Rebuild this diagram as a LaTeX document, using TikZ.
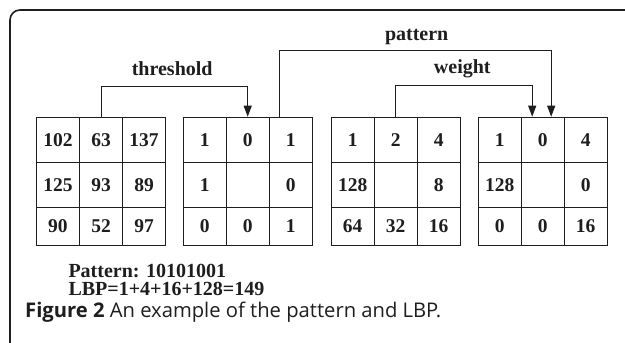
\documentclass[tikz,border=0pt]{standalone}
\usepackage{fontspec}
\setmainfont{Liberation Serif}
\newfontfamily\capfont{Open Sans}
\usetikzlibrary{arrows.meta}
\definecolor{ink}{HTML}{1E1E1E}
\begin{document}
\begin{tikzpicture}[x=1pt,y=-1pt,
  cell/.style={draw=ink, line width=1pt, minimum width=43pt, inner sep=0pt,
    anchor=north west, text=ink, font=\bfseries\fontsize{19.5}{19.5}\selectfont},
  conn/.style={draw=ink, line width=1pt, -{Triangle[length=11pt,width=8pt]}},
  lbl/.style={anchor=base, inner sep=0pt, text=ink, font=\bfseries\fontsize{20}{20}\selectfont},
  note/.style={anchor=base west, inner sep=0pt, text=ink, align=left,
    font=\bfseries\fontsize{20}{18}\selectfont},
  caption/.style={anchor=base west, inner sep=0pt, text=ink, font=\capfont\fontsize{20.2}{20.2}\selectfont}]
\useasboundingbox (0,0) rectangle (625,343);
\fill[white] (0,0) rectangle (625,343);

% open frame: left and top edges with a rounded corner
\draw[ink, line width=1.6pt, rounded corners=10pt] (10,345) -- (10,10) -- (627,10);

% the four 3x3 grids: name / left edge / cell values (row by row)
\foreach \g/\x/\vals in {
    a/36/{102,63,137,125,93,89,90,52,97},
    b/182.7/{1,0,1,1,{},0,0,0,1},
    c/330.7/{1,2,4,128,{},8,64,32,16},
    d/477.7/{1,0,4,128,{},0,0,0,16}} {
  \foreach \v [count=\i from 0] in \vals {
    \pgfmathtruncatemacro\r{div(\i,3)}
    \pgfmathtruncatemacro\c{mod(\i,3)}
    \pgfmathsetmacro\yt{{116.7,161.7,207}[\r]}
    \pgfmathsetmacro\rh{{45,45.3,38}[\r]}
    \node[cell, minimum height=\rh pt] (\g-\i) at (\x+43*\c,\yt) {\v};
  }
}

% connectors
\draw[conn] (a-1.north) -- ++(0,-30) -| (b-1.north);
\draw[conn] ([xshift=-11.5pt]b-2.north) -- ++(0,-66.7) -| ([xshift=8.5pt]d-1.north);
\draw[conn] (c-1.north) -- ++(0,-31) -| ([xshift=-10.5pt]d-1.north);

% connector labels
\node[lbl] (thr) at (172.2,75) {threshold};
\node[lbl] (pat) at (416.7,40.7) {pattern};
\node[lbl] (wgt) at (462.3,73.3) {weight};

% result lines (anchored on the baseline of the second line)
\node[note] (res) at (68.3,295.3) {Pattern: 10101001\\LBP=1+4+16+128=149};

% caption
\node[caption] (cap) at (25,317) {\textbf{Figure 2} An example of the pattern and LBP.};
\end{tikzpicture}
\end{document}
